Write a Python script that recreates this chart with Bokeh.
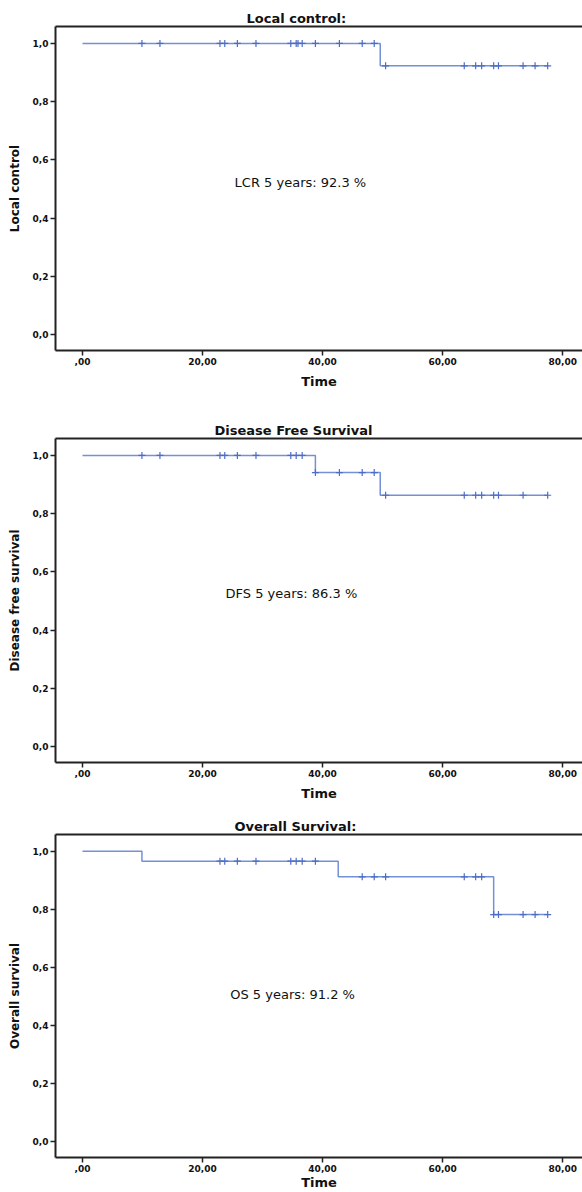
from bokeh.plotting import figure
from bokeh.layouts import column
from bokeh.models import Range1d, FixedTicker, LinearAxis, Label
from bokeh.embed import file_html
from bokeh.resources import INLINE

# ---------------- data ----------------
x_ticks = [0, 20, 40, 60, 80]
x_tick_labels = [",00", "20,00", "40,00", "60,00", "80,00"]
y_ticks = [0.0, 0.2, 0.4, 0.6, 0.8, 1.0]
y_tick_labels = ["0,0", "0,2", "0,4", "0,6", "0,8", "1,0"]

# Local control
lc_event_times = [49.6]
lc_levels = [1.0, 0.923]
lc_end_time = 77.5
lc_censor_times = [9.9, 12.9, 22.9, 23.7, 25.8, 28.9, 34.7, 35.6, 35.9, 36.6,
                   38.8, 42.8, 46.6, 48.6, 50.5, 63.6, 65.5, 66.5, 68.5, 69.3,
                   73.4, 75.4, 77.5]

# Disease free survival
dfs_event_times = [38.8, 49.6]
dfs_levels = [1.0, 0.941, 0.863]
dfs_end_time = 77.5
dfs_censor_times = [9.9, 12.9, 22.9, 23.7, 25.8, 28.9, 34.7, 35.6, 36.6,
                    38.8, 42.8, 46.6, 48.6, 50.5, 63.6, 65.5, 66.5, 68.5, 69.3,
                    73.4, 77.5]

# Overall survival
os_event_times = [9.9, 42.6, 68.5]
os_levels = [1.0, 0.966, 0.912, 0.782]
os_end_time = 77.5
os_censor_times = [22.9, 23.7, 25.8, 28.9, 34.7, 35.6, 36.6, 38.8,
                   46.6, 48.6, 50.5, 63.6, 65.5, 66.5, 68.5, 69.3, 73.4, 75.4, 77.5]

FONT = "DejaVu Sans"
LINE_COLOR = "#7490d8"
MARK_COLOR = "#4d6cc6"
Y0, Y1 = -0.055, 1.058


def level_at(t, event_times, levels):
    n = sum(1 for e in event_times if e <= t)
    return levels[n]


def panel(title, title_offset, ylabel, note, note_x, note_y, event_times, levels,
          end_time, censor_times, height, bottom, time_standoff):
    p = figure(width=582, height=height, output_backend="svg", toolbar_location=None,
               x_range=Range1d(-4.5, 83.3), y_range=Range1d(Y0, Y1),
               min_border_left=55, min_border_right=0, min_border_top=26,
               min_border_bottom=bottom)
    p.outline_line_color = None
    p.xgrid.visible = False
    p.ygrid.visible = False
    p.background_fill_color = "white"
    p.border_fill_color = "white"

    p.title.text = title
    p.title.text_font = FONT
    p.title.text_font_size = "13px"
    p.title.text_font_style = "bold"
    p.title.text_color = "#111111"
    p.title.align = "left"
    p.title.offset = title_offset
    p.title.standoff = 1

    xa = p.below[0]
    xa.ticker = FixedTicker(ticks=x_ticks)
    xa.major_label_overrides = {t: l for t, l in zip(x_ticks, x_tick_labels)}
    xa.axis_label = "Time"
    ya = p.left[0]
    ya.ticker = FixedTicker(ticks=y_ticks)
    ya.major_label_overrides = {t: l for t, l in zip(y_ticks, y_tick_labels)}
    ya.axis_label = ylabel
    for ax in (xa, ya):
        ax.axis_line_width = 2
        ax.axis_line_color = "#222222"
        ax.major_tick_line_width = 1.5
        ax.major_tick_line_color = "#222222"
        ax.major_tick_out = 5
        ax.major_tick_in = 0
        ax.minor_tick_out = 0
        ax.minor_tick_in = 0
        ax.major_label_text_font = FONT
        ax.major_label_text_font_style = "bold"
        ax.major_label_text_font_size = "9px"
        ax.major_label_text_color = "#111111"
        ax.major_label_standoff = 2
        ax.axis_label_text_font = FONT
        ax.axis_label_text_font_style = "bold"
        ax.axis_label_text_color = "#111111"
    xa.axis_label_text_font_size = "13px"
    xa.axis_label_standoff = time_standoff
    ya.axis_label_text_font_size = "12px"
    ya.axis_label_standoff = 8

    top = LinearAxis(major_label_text_font_size="0px", major_tick_out=0, major_tick_in=0,
                     minor_tick_out=0, minor_tick_in=0, axis_line_width=2,
                     axis_line_color="#222222", major_label_standoff=0)
    top.ticker = FixedTicker(ticks=[])
    p.add_layout(top, "above")

    xs = [0] + list(event_times) + [end_time]
    ys = list(levels) + [levels[-1]]
    p.step(xs, ys, mode="after", line_color=LINE_COLOR, line_width=1.5)

    cy = [level_at(t, event_times, levels) for t in censor_times]
    p.scatter(censor_times, cy, marker="cross", size=7, line_color=MARK_COLOR,
              line_width=1.2)

    p.add_layout(Label(x=note_x, y=note_y, text=note, text_font=FONT,
                       text_font_size="13px", text_color="#111111",
                       text_align="center", text_baseline="middle"))
    return p


p1 = panel("Local control:", 191, "Local control", "LCR 5 years: 92.3 %", 36.3, 0.522,
           lc_event_times, lc_levels, lc_end_time, lc_censor_times, 412, 62, 6)
p2 = panel("Disease Free Survival", 159, "Disease free survival", "DFS 5 years: 86.3 %",
           34.8, 0.526, dfs_event_times, dfs_levels, dfs_end_time, dfs_censor_times,
           396, 46, 6)
p3 = panel("Overall Survival:", 179, "Overall survival", "OS 5 years: 91.2 %", 35.0, 0.507,
           os_event_times, os_levels, os_end_time, os_censor_times, 384, 34, 0)

layout = column(p1, p2, p3, spacing=0)
open("out.html", "w").write(file_html(layout, INLINE))
